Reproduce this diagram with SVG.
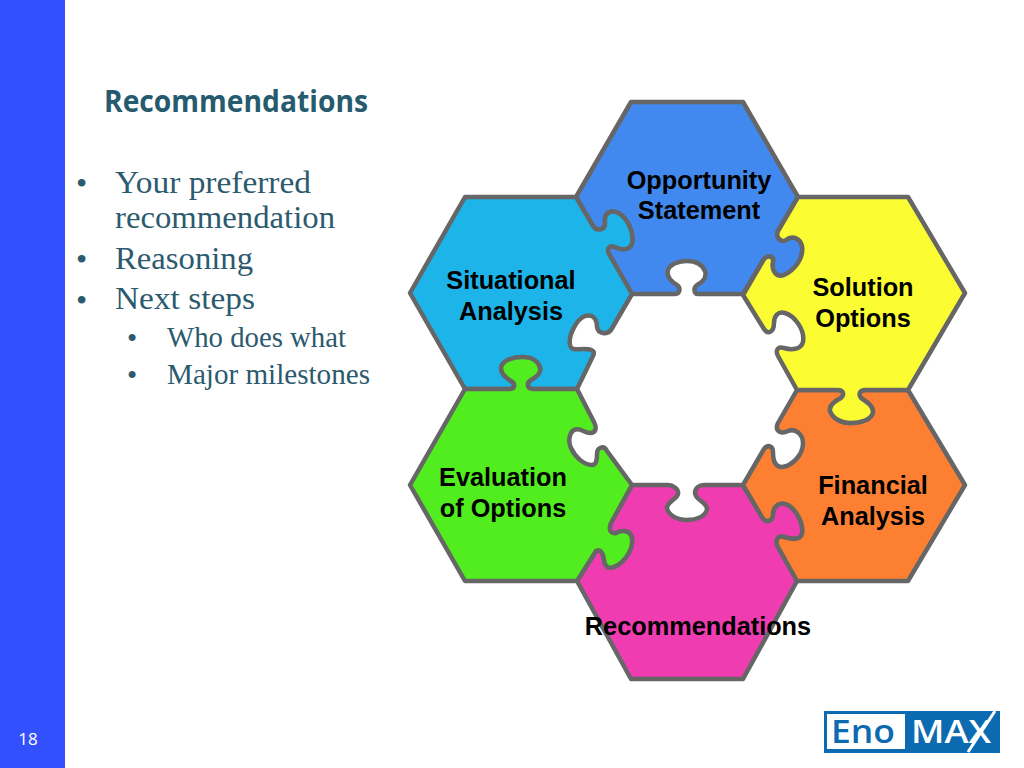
<svg xmlns="http://www.w3.org/2000/svg" width="1024" height="768" viewBox="0 0 1024 768">
<style>
.p{stroke:#666;stroke-width:4.5;stroke-linejoin:round}
.l{font-family:"Liberation Sans",Arial,sans-serif;font-weight:700;font-size:25.3px;fill:#000;text-anchor:middle}
.b{font-family:"Liberation Serif","Times New Roman",serif;fill:#2c5a6e}
.b1{font-size:32px}
.b2{font-size:29px}
</style>
<rect id="background" width="1024" height="768" fill="#fff"/>
<rect id="sidebar" width="65" height="768" fill="#3350ff"/>
<text id="page" x="28" y="745" font-family="'Open Sans','Liberation Sans',sans-serif" font-size="17" font-weight="400" fill="#fff" text-anchor="middle">18</text>
<text id="title" x="104" y="112" font-family="'Open Sans','Liberation Sans',sans-serif" font-size="31" font-weight="700" fill="#265a6e" textLength="264" lengthAdjust="spacingAndGlyphs">Recommendations</text>
<g id="body" class="b">
<text class="b1" x="76" y="194">•</text><text class="b1" x="115" y="193" textLength="196" lengthAdjust="spacingAndGlyphs">Your preferred</text>
<text class="b1" x="115" y="228" textLength="220" lengthAdjust="spacingAndGlyphs">recommendation</text>
<text class="b1" x="76" y="270">•</text><text class="b1" x="115" y="269" textLength="138" lengthAdjust="spacingAndGlyphs">Reasoning</text>
<text class="b1" x="76" y="311">•</text><text class="b1" x="115" y="309" textLength="140" lengthAdjust="spacingAndGlyphs">Next steps</text>
<text class="b2" x="127" y="348">•</text><text class="b2" x="167" y="347" textLength="179" lengthAdjust="spacingAndGlyphs">Who does what</text>
<text class="b2" x="127" y="385">•</text><text class="b2" x="167" y="384" textLength="203" lengthAdjust="spacingAndGlyphs">Major milestones</text>
</g>
<g id="node-recommendations">
<path class="p" fill="#ef3db1" d="M632 485 L668 485 C673 485 679 489 678 494 C677 499 667 502 667 508 C668 515 677 520 687 520 C697 520 706 516 707 509 C707 502 695 500 695 493 C695 488 699 485 704 485 L743 485 L762 517 C766 524 773 521 773 514 C773 506 780 501 788 505 C797 510 804 525 802 534 C800 541 791 539 784 537 C777 535 775 541 778 547 L797 581 L743 679 L631 679 L577 581 L596 551 C600 549 603 552 604 560 C605 568 610 570 618 565 C628 558 635 545 631 535 C628 530 621 530 616 533 C611 534 608 530 611 523 L632 485 Z"/>
<text class="l" x="698" y="635">Recommendations</text>
</g>
<g id="node-opportunity">
<path class="p" fill="#4189ee" d="M631 102 L743 102 L798 197 L778 231 C775 238 782 243 786 240 C792 235 800 238 802 246 C804 258 795 270 784 275 C776 278 771 270 773 262 C774 256 768 255 764 259 L743 294 L698 294 C694 294 693 288 697 285 C703 282 707 277 705 271 C702 264 695 261 687 261 C679 261 670 264 668 270 C666 277 672 282 677 285 C681 288 680 294 675 294 L632 294 L609 254 C606 248 610 245 615 247 C621 250 630 251 632 243 C634 232 628 220 620 214 C612 209 604 212 605 222 C606 230 597 232 593 226 L576 197 Z"/>
<text class="l" x="699" y="189">Opportunity</text><text class="l" x="699" y="219">Statement</text>
</g>
<g id="node-situational">
<path class="p" fill="#1db4ea" d="M465 197 L576 197 L593 226 C597 232 606 230 605 222 C604 212 612 209 620 214 C628 220 634 232 632 243 C630 251 621 250 615 247 C610 245 606 248 609 254 L632 294 L611 330 C607 335 598 334 597 327 C597 318 592 314 585 316 C577 319 568 335 570 345 C571 351 578 349 583 349 C590 349 596 350 593 356 L577 389 L533 389 C527 389 526 383 531 380 C538 376 541 372 540 368 C538 360 530 357 522 357 C514 357 502 360 501 368 C501 374 506 378 511 381 C516 384 515 389 509 389 L465 389 L410 293 Z"/>
<text class="l" x="511" y="289">Situational</text><text class="l" x="511" y="320">Analysis</text>
</g>
<g id="node-evaluation">
<path class="p" fill="#52ed1f" d="M465 389 L509 389 C515 389 516 384 511 381 C506 378 501 374 501 368 C502 360 514 357 522 357 C530 357 538 360 540 368 C541 372 538 376 531 380 C526 383 527 389 533 389 L577 389 L594 422 C597 428 596 433 590 433 C584 433 580 427 574 430 C569 433 568 442 571 448 C575 457 584 465 592 465 C597 465 597 458 597 454 C597 447 604 445 607 451 L632 485 L611 523 C608 530 611 534 616 533 C621 530 628 530 631 535 C635 545 628 558 618 565 C610 570 605 568 604 560 C603 552 600 549 596 551 L577 581 L465 581 L410 485 Z"/>
<text class="l" x="503" y="486">Evaluation</text><text class="l" x="503" y="517">of Options</text>
</g>
<g id="node-financial">
<path class="p" fill="#fd7f32" d="M797 390 L838 390 C843 390 845 394 841 398 C835 401 829 405 830 411 C833 419 842 423 850 423 C860 423 872 420 873 412 C873 405 866 402 861 398 C858 394 860 390 865 390 L908 390 L965 485 L908 581 L797 581 L778 547 C775 541 777 535 784 537 C791 539 800 541 802 534 C804 525 797 510 788 505 C780 501 773 506 773 514 C773 521 766 524 762 517 L743 485 L764 449 C768 444 773 446 773 452 C773 460 775 467 782 467 C792 466 803 455 803 443 C803 434 795 428 788 431 C782 434 774 432 778 423 L797 390 Z"/>
<text class="l" x="873" y="494">Financial</text><text class="l" x="873" y="525">Analysis</text>
</g>
<g id="node-solution">
<path class="p" fill="#fcfc33" d="M798 197 L908 197 L965 293 L908 390 L865 390 C860 390 858 394 861 398 C866 402 873 405 873 412 C872 420 860 423 850 423 C842 423 833 419 830 411 C829 405 835 401 841 398 C845 394 843 390 838 390 L797 390 L778 356 C775 350 778 346 784 348 C791 350 801 350 803 342 C805 330 795 316 785 313 C778 311 774 316 774 323 C774 332 768 335 764 329 L743 295 L764 259 C768 255 774 256 773 262 C771 270 776 278 784 275 C795 270 804 258 802 246 C800 238 792 235 786 240 C782 243 775 238 778 231 L798 197 Z"/>
<text class="l" x="863" y="296">Solution</text><text class="l" x="863" y="327">Options</text>
</g>
<g id="connectors"></g>
<g id="logo">
<rect x="824" y="711" width="176" height="42" fill="#0c6bb0"/>
<rect x="827" y="714" width="78" height="35" fill="#fff"/>
<text x="831" y="743" font-family="'Open Sans','Liberation Sans',sans-serif" font-size="32" font-weight="600" fill="#0c6bb0" textLength="64" lengthAdjust="spacingAndGlyphs">Eno</text>
<text x="911" y="743" font-family="'Open Sans','Liberation Sans',sans-serif" font-size="32" font-weight="600" fill="#fff" textLength="80" lengthAdjust="spacingAndGlyphs">MAX</text>
<path d="M995 711 L968 752" stroke="#fff" stroke-width="3" fill="none"/>
</g>
</svg>
